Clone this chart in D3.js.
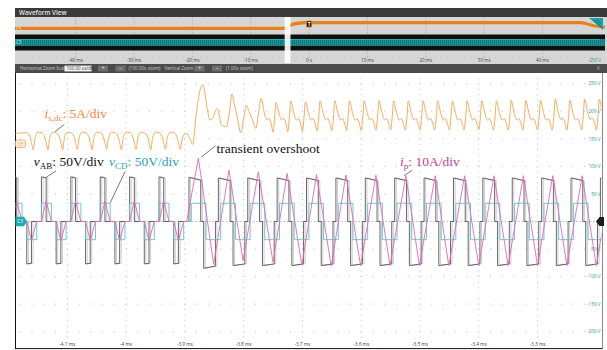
<!DOCTYPE html>
<html><head><meta charset="utf-8">
<script src="https://cdn.jsdelivr.net/npm/d3@7"></script>
<style>html,body{margin:0;padding:0;background:#fff;}svg{display:block;}</style>
</head><body>
<svg id="c" width="607" height="350"></svg>
<script>
// ---------- data (time in µs, amplitude in displayed volts) ----------
const timeTicks = [-4100, -4000, -3900, -3800, -3700, -3600, -3500, -3400, -3300];
const timeTickLabels = ["-4.1 ms", "-4 ms", "-3.9 ms", "-3.8 ms", "-3.7 ms", "-3.6 ms", "-3.5 ms", "-3.4 ms", "-3.3 ms"];
const voltTicks = [250, 200, 150, 100, 50, -50, -100, -150, -200];
const voltTickLabels = ["250 V", "200 V", "150 V", "100 V", "50 V", "-50 V", "-100 V", "-150 V", "-200 V"];
const gridVolts = [250, 200, 150, 100, 50, -50, -100, -150, -200];

// overview strip (time in ms)
const overviewTicks = [-40, -30, -20, -10, 0, 10, 20, 30, 40];
const overviewTickLabels = ["-40 ms", "-30 ms", "-20 ms", "-10 ms", "0 s", "10 ms", "20 ms", "30 ms", "40 ms"];
const ovTime   = [-50.4, -3.9, -3.0, -1.5, 0, 46.4, 49.0, 50.7];
const ovIsdcLo = [126, 126, 160, 178, 182, 182, 150, 140];
const ovIsdcHi = [157, 157, 195, 212, 215, 215, 180, 165];
const ovEnvTime = [-50.4, 50.7];
const ovVabEnv = [80, 80];
const ovVcdEnv = [35, 35];

// v_CD : [start, end, level]
const cdPulses = [
  [-4194,-4177,33],[-4169,-4152,-33],[-4144,-4127,33],[-4119,-4102,-33],
  [-4094,-4077,33],[-4069,-4052,-33],[-4044,-4027,33],[-4019,-4002,-33],
  [-3994,-3977,33],[-3969,-3952,-33],[-3944,-3927,33],[-3919,-3902,-33],
  [-3889,-3864,33],[-3864,-3839,-33],[-3839,-3814,33],[-3814,-3789,-33],
  [-3789,-3764,33],[-3764,-3739,-33],[-3739,-3714,33],[-3714,-3689,-33],
  [-3689,-3664,33],[-3664,-3639,-33],[-3639,-3614,33],[-3614,-3589,-33],
  [-3589,-3564,33],[-3564,-3539,-33],[-3539,-3514,33],[-3514,-3489,-33],
  [-3489,-3464,33],[-3464,-3439,-33],[-3439,-3414,33],[-3414,-3389,-33],
  [-3389,-3364,33],[-3364,-3339,-33],[-3339,-3314,33],[-3314,-3289,-33],
  [-3289,-3264,33],[-3264,-3239,-33],[-3239,-3214,33],[-3214,-3189,-33],
  [-3189,-3164,33]
];

// v_AB : [start, end, level at start, level at end]
const abPulses = [
  [-4194,-4186,81,79],[-4169,-4161,-77,-76],[-4144,-4136,81,79],[-4119,-4111,-77,-76],
  [-4094,-4086,81,79],[-4069,-4061,-77,-76],[-4044,-4036,81,79],[-4019,-4011,-77,-76],
  [-3994,-3986,81,79],[-3969,-3961,-77,-76],[-3944,-3936,81,79],[-3919,-3911,-77,-76],
  [-3893,-3873,80,75],[-3868,-3848,-85,-81],
  [-3843,-3823,79,74],[-3818,-3798,-80,-77],
  [-3793,-3773,79,74],[-3768,-3748,-80,-77],
  [-3743,-3723,79,74],[-3718,-3698,-80,-77],
  [-3693,-3673,79,74],[-3668,-3648,-80,-77],
  [-3643,-3623,79,74],[-3618,-3598,-80,-77],
  [-3593,-3573,79,74],[-3568,-3548,-80,-77],
  [-3543,-3523,79,74],[-3518,-3498,-80,-77],
  [-3493,-3473,79,74],[-3468,-3448,-80,-77],
  [-3443,-3423,79,74],[-3418,-3398,-80,-77],
  [-3393,-3373,79,74],[-3368,-3348,-80,-77],
  [-3343,-3323,79,74],[-3318,-3298,-80,-77],
  [-3293,-3273,79,74],[-3268,-3248,-80,-77],
  [-3243,-3223,79,74],[-3218,-3198,-80,-77],
  [-3193,-3173,79,74]
];

// i_p : [time, value]
const ipPoints = [
  [-4194,0],[-4186,37],[-4177,0],[-4169,0],[-4161,-35],[-4152,0],
  [-4144,0],[-4136,37],[-4127,0],[-4119,0],[-4111,-35],[-4102,0],
  [-4094,0],[-4086,37],[-4077,0],[-4069,0],[-4061,-35],[-4052,0],
  [-4044,0],[-4036,37],[-4027,0],[-4019,0],[-4011,-35],[-4002,0],
  [-3994,0],[-3986,37],[-3977,0],[-3969,0],[-3961,-35],[-3952,0],
  [-3944,0],[-3936,37],[-3927,0],[-3919,0],[-3911,-35],[-3902,0],
  [-3897,0],[-3877,115],[-3851,-78],[-3825,93],[-3801,-71],[-3775,90],
  [-3750,-74],[-3726,87],[-3701,-79],[-3676,85],[-3651,-81],[-3626,84],
  [-3601,-80],[-3575,84],[-3551,-80],[-3524,83],[-3501,-80],[-3474,83],
  [-3451,-80],[-3424,83],[-3400,-80],[-3374,83],[-3350,-80],[-3324,83],
  [-3300,-80],[-3274,83],[-3250,-80],[-3224,83],[-3200,-80],[-3174,83]
];

// i_s,dc : [time, value]
const isdcPoints = [
  [-4189,160],[-4169,161],[-4164,155],[-4161,143],[-4158,130],
  [-4155,151],[-4150,162],[-4144,161],[-4139,155],[-4136,143],[-4133,130],
  [-4130,151],[-4125,162],[-4119,161],[-4114,155],[-4111,143],[-4108,130],
  [-4105,151],[-4100,162],[-4094,161],[-4089,155],[-4086,143],[-4083,131],
  [-4080,151],[-4075,162],[-4069,161],[-4064,155],[-4061,143],[-4058,130],
  [-4055,151],[-4050,162],[-4044,161],[-4039,155],[-4036,143],[-4033,131],
  [-4030,151],[-4025,162],[-4019,161],[-4014,155],[-4011,143],[-4008,130],
  [-4005,151],[-4000,162],[-3994,161],[-3989,155],[-3986,143],[-3983,131],
  [-3980,151],[-3975,162],[-3969,161],[-3964,155],[-3961,143],[-3958,130],
  [-3955,151],[-3950,162],[-3944,161],[-3939,155],[-3936,143],[-3933,131],
  [-3930,151],[-3925,162],[-3919,161],[-3914,155],[-3911,143],[-3908,131],
  [-3904,152],[-3898,160],[-3892,152],[-3887,140],[-3880,200],[-3873,243],
  [-3870,248],[-3867,240],[-3862,205],[-3857,184],[-3851,192],[-3847,203],
  [-3845,205],[-3842,196],[-3838,175],[-3829,172],[-3824,200],[-3820,231],
  [-3816,214],[-3811,190],[-3805,161],[-3800,186],[-3795,211],[-3791,200],
  [-3785,184],[-3779,169],[-3775,194],
  [-3770,224],[-3765,198],[-3760,184],[-3757,187],[-3753,177],[-3750,162],[-3747,192],
  [-3745,216],[-3740,197],[-3735,184],[-3732,187],[-3728,177],[-3725,163],[-3722,192],
  [-3720,219],[-3715,198],[-3710,184],[-3707,187],[-3703,177],[-3700,163],[-3697,192],
  [-3695,217],[-3690,198],[-3685,184],[-3682,187],[-3678,177],[-3675,164],[-3672,192],
  [-3670,219],[-3665,198],[-3660,184],[-3657,187],[-3653,177],[-3650,165],[-3647,192],
  [-3645,219],[-3640,198],[-3635,184],[-3632,187],[-3628,177],[-3625,165],[-3622,192],
  [-3620,219],[-3615,198],[-3610,184],[-3607,187],[-3603,177],[-3600,165],[-3597,192],
  [-3595,219],[-3590,198],[-3585,184],[-3582,187],[-3578,177],[-3575,166],[-3572,192],
  [-3570,219],[-3565,198],[-3560,184],[-3557,187],[-3553,177],[-3550,166],[-3547,192],
  [-3545,219],[-3540,198],[-3535,184],[-3532,187],[-3528,177],[-3525,166],[-3522,192],
  [-3520,219],[-3515,198],[-3510,184],[-3507,187],[-3503,177],[-3500,166],[-3497,192],
  [-3495,219],[-3490,198],[-3485,184],[-3482,187],[-3478,177],[-3475,166],[-3472,192],
  [-3470,219],[-3465,198],[-3460,184],[-3457,187],[-3453,177],[-3450,166],[-3447,192],
  [-3445,219],[-3440,198],[-3435,184],[-3432,187],[-3428,177],[-3425,166],[-3422,192],
  [-3420,219],[-3415,198],[-3410,184],[-3407,187],[-3403,177],[-3400,166],[-3397,192],
  [-3395,219],[-3390,198],[-3385,184],[-3382,187],[-3378,177],[-3375,166],[-3372,192],
  [-3370,219],[-3365,198],[-3360,184],[-3357,187],[-3353,177],[-3350,166],[-3347,192],
  [-3345,220],[-3340,198],[-3335,184],[-3332,187],[-3328,177],[-3325,166],[-3322,193],
  [-3320,220],[-3315,198],[-3310,184],[-3307,187],[-3303,177],[-3300,166],[-3297,193],
  [-3295,220],[-3290,198],[-3285,184],[-3282,187],[-3278,177],[-3275,166],[-3272,193],
  [-3270,222],[-3265,199],[-3260,185],[-3257,188],[-3253,178],[-3250,166],[-3247,193],
  [-3245,220],[-3240,198],[-3235,184],[-3232,187],[-3228,177],[-3225,166],[-3222,193],
  [-3220,222],[-3215,199],[-3210,185],[-3207,188],[-3203,178],[-3200,166],[-3197,193],
  [-3195,222],[-3190,199],[-3185,185]
];

// ---------- layout ----------
const svg = d3.select('#c');
const UI = 'Open Sans, DejaVu Sans, sans-serif';
const SERIF = 'Liberation Serif, Times New Roman, serif';
const P = {left: 15, right: 601, top: 73, bottom: 348};

const x = d3.scaleLinear().domain([-4189, -3192]).range([P.left, P.right]);
const y = d3.scaleLinear().domain([-230, 270]).range([348.2, 72.7]);
const ox = d3.scaleLinear().domain([-50.4, 50.7]).range([15, 605]);
const oy = d3.scaleLinear().domain([-250, 250]).range([67.5, 17.5]);

// ---------- header, overview, toolbar ----------
svg.append('rect').attr('x', 15).attr('y', 8).attr('width', 592).attr('height', 9).attr('fill', '#3a3a3a');
svg.append('text').attr('x', 19).attr('y', 15).attr('fill', '#e4e4e4')
  .attr('font-family', UI).attr('font-size', 6.3).attr('font-weight', 600).text('Waveform View');

svg.append('rect').attr('x', 15).attr('y', 17).attr('width', 592).attr('height', 47).attr('fill', '#d6d6d6');

const defs = svg.append('defs');
const pat = defs.append('pattern').attr('id', 'tealTex').attr('patternUnits', 'userSpaceOnUse')
  .attr('width', 2).attr('height', 3);
pat.append('rect').attr('width', 2).attr('height', 3).attr('fill', '#1a9494');
pat.append('rect').attr('width', 0.8).attr('height', 3).attr('fill', '#0f7072');

// overview grid
overviewTicks.forEach(t => {
  svg.append('line').attr('x1', ox(t)).attr('x2', ox(t)).attr('y1', 17).attr('y2', 63)
    .attr('stroke', '#a8a8a8').attr('stroke-width', 0.7).attr('stroke-dasharray', '1.5,1.5');
});
[200, -150].forEach(v => {
  svg.append('line').attr('x1', 15).attr('x2', 605).attr('y1', oy(v)).attr('y2', oy(v))
    .attr('stroke', '#b0b0b0').attr('stroke-width', 0.6).attr('stroke-dasharray', '1,5');
});

// overview envelopes
const envArea = (hi) => d3.area().x((d, i) => ox(ovEnvTime[i])).y0((d, i) => oy(-hi[i])).y1((d, i) => oy(hi[i]));
svg.append('path').datum(ovEnvTime).attr('d', envArea(ovVabEnv)).attr('fill', '#101010');
svg.append('path').datum(ovEnvTime).attr('d', envArea(ovVcdEnv)).attr('fill', 'url(#tealTex)');
svg.append('line').attr('x1', 15).attr('x2', 600).attr('y1', oy(30)).attr('y2', oy(30))
  .attr('stroke', '#38b4b4').attr('stroke-width', 0.8);
svg.append('path').datum(ovTime)
  .attr('d', d3.area().x((d, i) => ox(ovTime[i])).y0((d, i) => oy(ovIsdcLo[i])).y1((d, i) => oy(ovIsdcHi[i]))
    .curve(d3.curveMonotoneX))
  .attr('fill', '#e8801c');

// zoom window indicator
svg.append('rect').attr('x', ox(-4.19)).attr('y', 17).attr('width', ox(-3.19) - ox(-4.19)).attr('height', 46)
  .attr('fill', '#ffffff').attr('opacity', 0.9);

// trigger marker
svg.append('rect').attr('x', ox(0) - 2.6).attr('y', 21).attr('width', 5.2).attr('height', 6)
  .attr('fill', '#111').attr('stroke', '#e8801c').attr('stroke-width', 0.8);
svg.append('text').attr('x', ox(0)).attr('y', 25.8).attr('text-anchor', 'middle').attr('fill', '#fff')
  .attr('font-family', UI).attr('font-size', 5).attr('font-weight', 700).text('T');

// right-end channel marker in overview
svg.append('path').attr('d', 'M589,18 L603,18 L603,30 Z').attr('fill', '#1f9ea4');
svg.append('path').attr('d', 'M594,20 L601,27 M597,20 L601,24').attr('stroke', '#0d6466').attr('stroke-width', 0.7);

// overview channel tags
svg.append('text').attr('x', 16).attr('y', 30.6).attr('fill', '#fbe3c8').attr('font-family', UI).attr('font-size', 4.5).text('C5');
svg.append('text').attr('x', 16).attr('y', 44.4).attr('fill', '#d0f4f4').attr('font-family', UI).attr('font-size', 4.5).text('C3');

// overview tick labels
overviewTicks.forEach((t, i) => {
  svg.append('text').attr('x', ox(t)).attr('y', 62.4).attr('text-anchor', 'middle').attr('fill', '#444')
    .attr('font-family', UI).attr('font-size', 4.6).text(overviewTickLabels[i]);
});
svg.append('text').attr('x', 601).attr('y', 62.4).attr('text-anchor', 'end').attr('fill', '#1f9a9a')
  .attr('font-family', UI).attr('font-size', 4.6).text('-250 V');

// toolbar
svg.append('rect').attr('x', 15).attr('y', 64).attr('width', 592).attr('height', 9).attr('fill', '#4b4b4b');
const tb = (tx, s, fill) => svg.append('text').attr('x', tx).attr('y', 70.2).attr('fill', fill || '#cfcfcf')
  .attr('font-family', UI).attr('font-size', 4.5).text(s);
tb(20, 'Horizontal Zoom Scale');
svg.append('rect').attr('x', 64.5).attr('y', 65.6).attr('width', 27).attr('height', 5.8).attr('fill', '#f4f4f4');
tb(66.5, '100.00 us/div', '#333');
[[98, '+'], [115.5, '−'], [194.5, '+'], [212, '−']].forEach(([bx, s]) => {
  svg.append('rect').attr('x', bx).attr('y', 65.6).attr('width', 10).attr('height', 5.8).attr('fill', '#6e6e6e');
  svg.append('text').attr('x', bx + 5).attr('y', 70.3).attr('text-anchor', 'middle').attr('fill', '#eee')
    .attr('font-family', UI).attr('font-size', 5.5).text(s);
});
tb(128.5, '(100.00x zoom)');
tb(164.5, 'Vertical Zoom');
tb(226, '(1.00x zoom)');
tb(597, 'X', '#bbb');

// ---------- main grid ----------
const grid = svg.append('g');
gridVolts.forEach(v => {
  for (let t = -4180; t <= -3195; t += 20) {
    grid.append('rect').attr('x', x(t) - 0.5).attr('y', y(v) - 0.5).attr('width', 1).attr('height', 1).attr('fill', '#bdbdbd');
  }
});
timeTicks.forEach(t => {
  for (let v = -220; v <= 265; v += 10) {
    grid.append('rect').attr('x', x(t) - 0.5).attr('y', y(v) - 0.5).attr('width', 1).attr('height', 1).attr('fill', '#c4c4c4');
  }
});
grid.append('line').attr('x1', P.left).attr('x2', P.right).attr('y1', y(0)).attr('y2', y(0))
  .attr('stroke', '#a9a9a9').attr('stroke-width', 0.8).attr('stroke-dasharray', '1.6,1.8');

// frame
svg.append('line').attr('x1', 15.5).attr('x2', 15.5).attr('y1', 73).attr('y2', 349).attr('stroke', '#111').attr('stroke-width', 1);
svg.append('line').attr('x1', 15).attr('x2', 603).attr('y1', 348.6).attr('y2', 348.6).attr('stroke', '#111').attr('stroke-width', 1);
svg.append('line').attr('x1', 602.5).attr('x2', 602.5).attr('y1', 73).attr('y2', 349).attr('stroke', '#8a8a8a').attr('stroke-width', 1);

// axis labels
voltTicks.forEach((v, i) => {
  svg.append('text').attr('x', 600.5).attr('y', y(v) + 1.7).attr('text-anchor', 'end').attr('fill', '#1f9a9a')
    .attr('font-family', UI).attr('font-size', 4.7).text(voltTickLabels[i]);
});
timeTicks.forEach((t, i) => {
  svg.append('text').attr('x', x(t)).attr('y', 346.2).attr('text-anchor', 'middle').attr('fill', '#444')
    .attr('font-family', UI).attr('font-size', 4.7).text(timeTickLabels[i]);
});

// ---------- traces ----------
defs.append('clipPath').attr('id', 'plotClip').append('rect')
  .attr('x', P.left + 0.5).attr('y', P.top).attr('width', P.right - P.left).attr('height', P.bottom - P.top);
const traces = svg.append('g').attr('clip-path', 'url(#plotClip)');
const line = d3.line().x(d => x(d[0])).y(d => y(d[1]));

const abPts = [];
abPulses.forEach(([t0, t1, v0, v1]) => { abPts.push([t0, 0], [t0, v0], [t1, v1], [t1, 0]); });
const cdPts = [];
cdPulses.forEach(([t0, t1, v]) => { cdPts.push([t0, 0], [t0, v], [t1, v], [t1, 0]); });

// v_AB with its faint persistence trail
traces.append('path').attr('d', line(abPts)).attr('fill', 'none').attr('stroke', '#c8c8c8')
  .attr('stroke-width', 0.9).attr('transform', 'translate(1.6,0)');
traces.append('path').attr('d', line(abPts)).attr('fill', 'none').attr('stroke', '#4d4d4d').attr('stroke-width', 0.85);
traces.append('path').attr('d', line(cdPts)).attr('fill', 'none').attr('stroke', '#5ac6cc').attr('stroke-width', 0.9);
traces.append('path').attr('d', line(ipPoints)).attr('fill', 'none').attr('stroke', '#e566b5').attr('stroke-width', 0.9);
traces.append('path').attr('d', d3.line().x(d => x(d[0])).y(d => y(d[1])).curve(d3.curveMonotoneX)(isdcPoints))
  .attr('fill', 'none').attr('stroke', '#f6a553').attr('stroke-width', 0.95);

// channel tags
svg.append('rect').attr('x', 15.5).attr('y', 140).attr('width', 10).attr('height', 7.5).attr('rx', 2)
  .attr('fill', '#fff4e8').attr('stroke', '#f0a050').attr('stroke-width', 0.8);
svg.append('text').attr('x', 20.5).attr('y', 145.6).attr('text-anchor', 'middle').attr('fill', '#e88a30')
  .attr('font-family', UI).attr('font-size', 4.6).text('C5');
svg.append('path').attr('d', `M15.5,${y(0) - 4.8} L24,${y(0) - 4.8} L27,${y(0)} L24,${y(0) + 4.8} L15.5,${y(0) + 4.8} Z`)
  .attr('fill', '#1fa9b4');
svg.append('text').attr('x', 20.2).attr('y', y(0) + 1.7).attr('text-anchor', 'middle').attr('fill', '#fff')
  .attr('font-family', UI).attr('font-size', 4.8).text('C3');
svg.append('path').attr('d', `M604,${y(0) - 4.5} L599.5,${y(0) - 4.5} L596,${y(0)} L599.5,${y(0) + 4.5} L604,${y(0) + 4.5} Z`)
  .attr('fill', '#1c1c1c');

// ---------- annotations ----------
function richText(tx, ty, parts, color) {
  const t = svg.append('text').attr('x', tx).attr('y', ty).attr('fill', color)
    .attr('font-family', SERIF).attr('font-size', 13.5);
  parts.forEach(p => {
    const s = t.append('tspan').text(p.s);
    if (p.it) s.attr('font-style', 'italic');
    if (p.sub) s.attr('font-size', 9).attr('dy', 3);
    if (p.back) s.attr('dy', -3);
  });
}
function leader(t0, v0, t1, v1) {
  svg.append('line').attr('x1', x(t0)).attr('y1', y(v0)).attr('x2', x(t1)).attr('y2', y(v1))
    .attr('stroke', '#555').attr('stroke-width', 0.8);
}

richText(x(-4139), y(188), [{s: 'i', it: 1}, {s: 's,dc', sub: 1}, {s: ': 5A/div', back: 1}], '#f0883a');
leader(-4121, 163, -4105, 176);

richText(x(-4157), y(100), [{s: 'v', it: 1}, {s: 'AB', sub: 1}, {s: ': 50V/div', back: 1}], '#111');
leader(-4119, 92, -4136, 80);

richText(x(-4029), y(100), [{s: 'v', it: 1}, {s: 'CD', sub: 1}, {s: ': 50V/div', back: 1}], '#2a9fbf');
leader(-4002, 90, -4027, 34);

svg.append('text').attr('x', x(-3846)).attr('y', y(125)).attr('fill', '#111')
  .attr('font-family', SERIF).attr('font-size', 13.5).text('transient overshoot');
leader(-3848, 137, -3872, 117);

richText(x(-3534), y(100), [{s: 'i', it: 1}, {s: 'p', sub: 1}, {s: ': 10A/div', back: 1}], '#c23d9e');
leader(-3513, 93, -3527, 83);
</script>
</body></html>
